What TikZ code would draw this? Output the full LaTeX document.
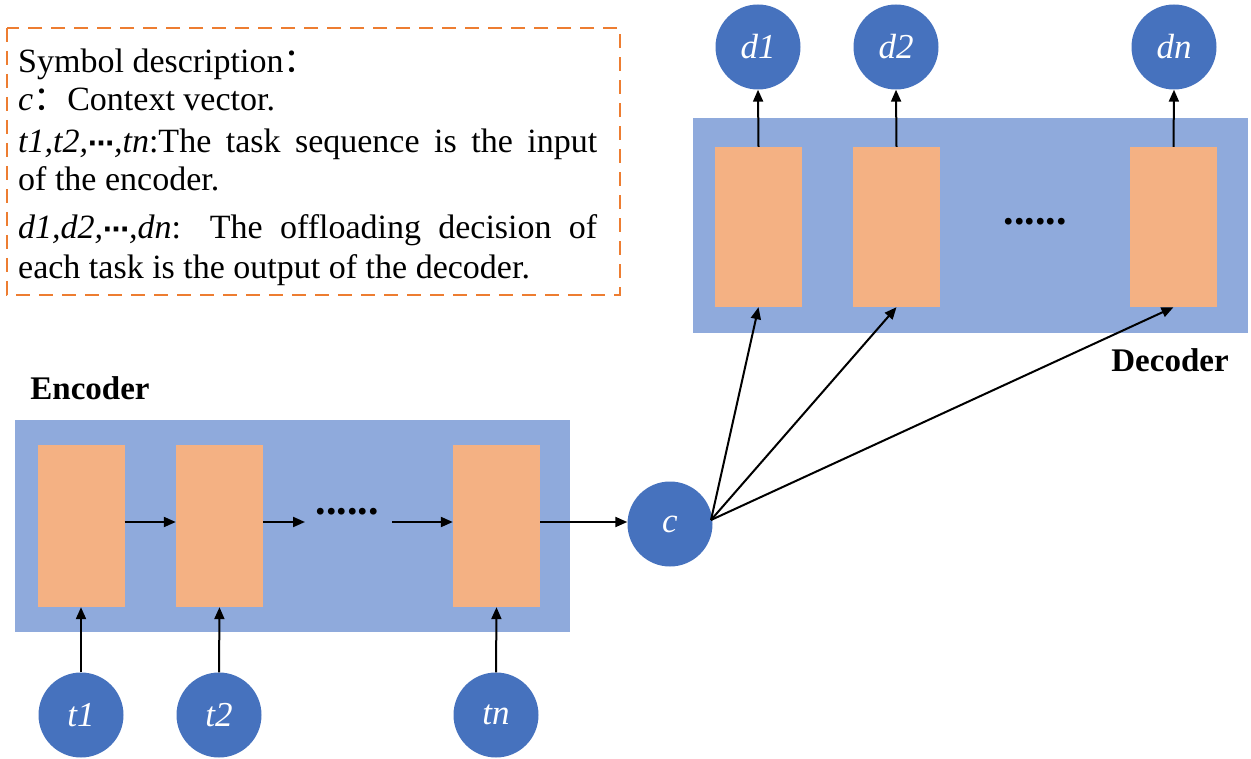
\documentclass[tikz,border=0pt]{standalone}
\usepackage{fontspec}
\setmainfont{Liberation Serif}
\newfontfamily\cjk{Noto Sans CJK SC}
\newfontfamily\dv{DejaVu Sans}
\usetikzlibrary{arrows.meta}
\definecolor{boxblue}{RGB}{143,170,220}
\definecolor{cellorange}{RGB}{244,177,131}
\definecolor{nodeblue}{RGB}{70,114,190}
\definecolor{dashorange}{RGB}{237,125,49}
\begin{document}
\begin{tikzpicture}[x=1pt,y=-1pt,
  panel/.style={fill=boxblue,draw=none},
  cell/.style={fill=cellorange,draw=none},
  tok/.style={circle,fill=nodeblue,draw=none,minimum size=85pt,inner sep=0pt,text=white,font=\fontsize{35}{36}\selectfont\itshape},
  arr/.style={-{Triangle[length=12pt,width=10pt]},line width=2pt},
  desc/.style={anchor=base west,inner sep=0pt,font=\fontsize{34}{36}\selectfont},
  title/.style={inner sep=0pt,font=\fontsize{33}{36}\selectfont\bfseries},
  dots/.style={inner sep=0pt,font=\fontsize{42}{44}\selectfont\bfseries}]
\useasboundingbox (0,0) rectangle (1251,759);
% description box
\draw[dashorange,line width=1.5pt,dash pattern=on 14pt off 9pt] (7,28) rectangle (620,295);
\node[desc] (l1) at (18,73) {Symbol description{\cjk ：}};
\node[desc] (l2) at (18,111) {\textit{c}{\cjk ：}Context vector.};
\node[desc] (l3) at (18,153) {\makebox[579pt][s]{\textit{t1,t2,}{\dv\bfseries\fontsize{26}{30}\selectfont ⋯}\textit{,tn}:The task sequence is the input}};
\node[desc] (l4) at (18,191) {of the encoder.};
\node[desc] (l5) at (18,239) {\makebox[579pt][s]{\textit{d1,d2,}{\dv\bfseries\fontsize{26}{30}\selectfont ⋯}\textit{,dn}: The offloading decision of}};
\node[desc] (l6) at (18,279) {each task is the output of the decoder.};
% decoder
\fill[boxblue] (693,118) rectangle (1248,333);
\node[cell,minimum width=87pt,minimum height=160pt,inner sep=0pt] (r1) at (758.5,227) {};
\node[cell,minimum width=87pt,minimum height=160pt,inner sep=0pt] (r2) at (896.5,227) {};
\node[cell,minimum width=87pt,minimum height=160pt,inner sep=0pt] (rn) at (1173.5,227) {};
\node[dots] (ddots) at (1035,222) {......};
\node[tok] (d1) at (758,47) {d1};
\node[tok] (d2) at (896,47) {d2};
\node[tok] (dn) at (1174,47) {dn};
\draw[arr] (r1.north) -- (d1.south);
\draw[arr] (r2.north) -- (d2.south);
\draw[arr] (rn.north) -- (dn.south);
\node[title] (dec) at (1170,360) {Decoder};
% encoder
\node[title] (enc) at (90,388) {Encoder};
\fill[boxblue] (15,420) rectangle (570,632);
\node[cell,minimum width=87pt,minimum height=162pt,inner sep=0pt] (e1) at (81,526) {};
\node[cell,minimum width=87pt,minimum height=162pt,inner sep=0pt] (e2) at (219.5,526) {};
\node[cell,minimum width=87pt,minimum height=162pt,inner sep=0pt] (en) at (496.5,526) {};
\node[dots] (edots) at (347,512) {......};
\coordinate (a1) at (305,522);
\coordinate (a2) at (392,522);
\node[tok] (c) at (670,524) {c};
\draw[arr] (e1.east|-0,522) -- (e2.west|-0,522);
\draw[arr] (e2.east|-0,522) -- (a1);
\draw[arr] (a2) -- (en.west|-0,522);
\draw[arr] (en.east|-0,522) -- (c.west|-0,522);
\node[tok] (t1) at (81,715) {t1};
\node[tok] (t2) at (219,715) {t2};
\node[tok] (tn) at (496,715) {tn};
\draw[arr] (t1.north) -- (e1.south);
\draw[arr] (t2.north) -- (e2.south);
\draw[arr] (tn.north) -- (en.south);
% context to decoder
\coordinate (cs) at (711,520);
\draw[arr] (cs) -- (r1.south);
\draw[arr] (cs) -- (r2.south);
\draw[arr] (cs) -- (rn.south);
\end{tikzpicture}
\end{document}
